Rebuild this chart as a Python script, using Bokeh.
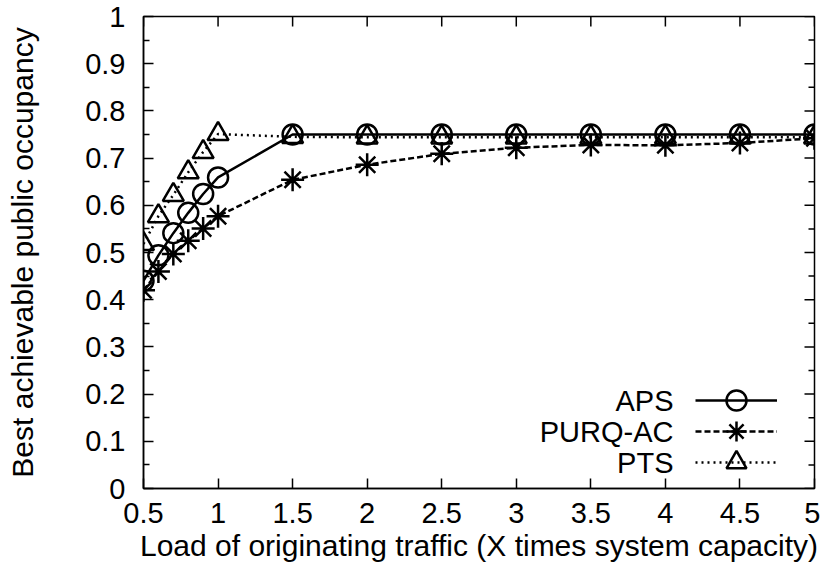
from math import pi
from bokeh.plotting import figure
from bokeh.models import Range1d, FixedTicker, Legend, LegendItem, Label
from bokeh.core.properties import value
from bokeh.embed import file_html
from bokeh.resources import INLINE

# ---- data ----
load = [0.5, 0.6, 0.7, 0.8, 0.9, 1.0, 1.5, 2.0, 2.5, 3.0, 3.5, 4.0, 4.5, 5.0]
aps = [0.440, 0.494, 0.541, 0.584, 0.624, 0.659, 0.750, 0.750, 0.750, 0.750, 0.750, 0.750, 0.750, 0.750]
purq_ac = [0.420, 0.460, 0.497, 0.525, 0.551, 0.577, 0.654, 0.686, 0.709, 0.722, 0.728, 0.727, 0.732, 0.742]
pts = [0.518, 0.577, 0.622, 0.670, 0.713, 0.751, 0.745, 0.744, 0.744, 0.744, 0.744, 0.744, 0.744, 0.744]
series_names = ["APS", "PURQ-AC", "PTS"]

x_ticks = [0.5, 1.0, 1.5, 2.0, 2.5, 3.0, 3.5, 4.0, 4.5, 5.0]
x_tick_labels = ["0.5", "1", "1.5", "2", "2.5", "3", "3.5", "4", "4.5", "5"]
y_ticks = [0.0, 0.1, 0.2, 0.3, 0.4, 0.5, 0.6, 0.7, 0.8, 0.9, 1.0]
y_tick_labels = ["0", "0.1", "0.2", "0.3", "0.4", "0.5", "0.6", "0.7", "0.8", "0.9", "1"]
y_minor_ticks = [0.05, 0.15, 0.25, 0.35, 0.45, 0.55, 0.65, 0.75, 0.85, 0.95]
x_title = "Load of originating traffic (X times system capacity)"
y_title = "Best achievable public occupancy"

FONT = "Liberation Sans"
X0, X1 = 0.5, 5.0
Y0, Y1 = 0.0, 1.0

p = figure(width=820, height=572, output_backend="svg", toolbar_location=None,
           x_range=Range1d(X0, X1), y_range=Range1d(Y0, Y1),
           min_border_left=143, min_border_right=6, min_border_top=16, min_border_bottom=84,
           background_fill_color="white", border_fill_color="white")
p.grid.visible = False
p.outline_line_color = "black"
p.outline_line_width = 1.5


def style_axis(ax, ticks, minor, labels):
    ax.ticker = FixedTicker(ticks=ticks, minor_ticks=minor)
    ax.axis_line_color = "black"
    ax.axis_line_width = 1.5
    ax.major_tick_in = 10
    ax.major_tick_out = 0
    ax.major_tick_line_width = 1.5
    ax.major_tick_line_color = "black"
    ax.minor_tick_in = 6
    ax.minor_tick_out = 0
    ax.minor_tick_line_width = 1.5
    ax.minor_tick_line_color = "black" if minor else None
    ax.major_label_overrides = {t: l for t, l in zip(ticks, labels)}
    ax.major_label_text_font = FONT
    ax.major_label_text_font_size = "29px"
    ax.major_label_text_color = "black"
    ax.axis_label_text_font = FONT
    ax.axis_label_text_font_size = "30px"
    ax.axis_label_text_font_style = "normal"
    ax.axis_label_text_color = "black"


xb = p.xaxis[0]
yl = p.yaxis[0]
style_axis(xb, x_ticks, [], x_tick_labels)
style_axis(yl, y_ticks, y_minor_ticks, y_tick_labels)
xb.major_label_standoff = 14
xb.axis_label = x_title
xb.axis_label_standoff = 3
yl.major_label_standoff = 18
yl.axis_label = y_title
yl.axis_label_standoff = 43

# mirrored inward ticks on the top and right borders (half of each dash is clipped by the frame)
p.scatter(x_ticks, [Y1] * len(x_ticks), marker="dash", angle=pi / 2, size=20,
          line_color="black", line_width=1.5)
p.scatter([X1] * len(y_ticks), y_ticks, marker="dash", size=20,
          line_color="black", line_width=1.5)
p.scatter([X1] * len(y_minor_ticks), y_minor_ticks, marker="dash", size=12,
          line_color="black", line_width=1.5)

# ---- series ----
l_aps = p.line(load, aps, line_color="black", line_width=2.5)
s_aps = p.scatter(load, aps, marker="circle", size=20, fill_color=None,
                  line_color="black", line_width=2.5)
l_purq = p.line(load, purq_ac, line_color="black", line_width=2.5, line_dash="6 3")
s_purq = p.scatter(load, purq_ac, marker="asterisk", size=23,
                   line_color="black", line_width=2.5)
l_pts = p.line(load, pts, line_color="black", line_width=2.5, line_dash="2 4")
s_pts = p.scatter(load, pts, marker="triangle", size=21, fill_color=None,
                  line_color="black", line_width=2.5)

# ---- legend: one key per row, names right-aligned to the left of the samples ----
row_y = [87.7, 56.7, 25.7]
pairs = [(l_aps, s_aps), (l_purq, s_purq), (l_pts, s_pts)]
for name, ry, (lr, sr) in zip(series_names, row_y, pairs):
    lg = Legend(items=[LegendItem(label=value(""), renderers=[lr, sr])],
                location=(552, ry - 25), padding=0, margin=0, spacing=0,
                glyph_width=82, glyph_height=50, label_width=0, label_standoff=0,
                label_text_font_size="29px", label_text_color=None,
                border_line_color=None, background_fill_alpha=0)
    p.add_layout(lg, "center")
    p.add_layout(Label(x=530, y=ry, x_units="screen", y_units="screen", text=name,
                       text_align="right", text_baseline="middle",
                       text_font=FONT, text_font_size="29px", text_color="black"))

open("out.html", "w").write(file_html(p, INLINE))
